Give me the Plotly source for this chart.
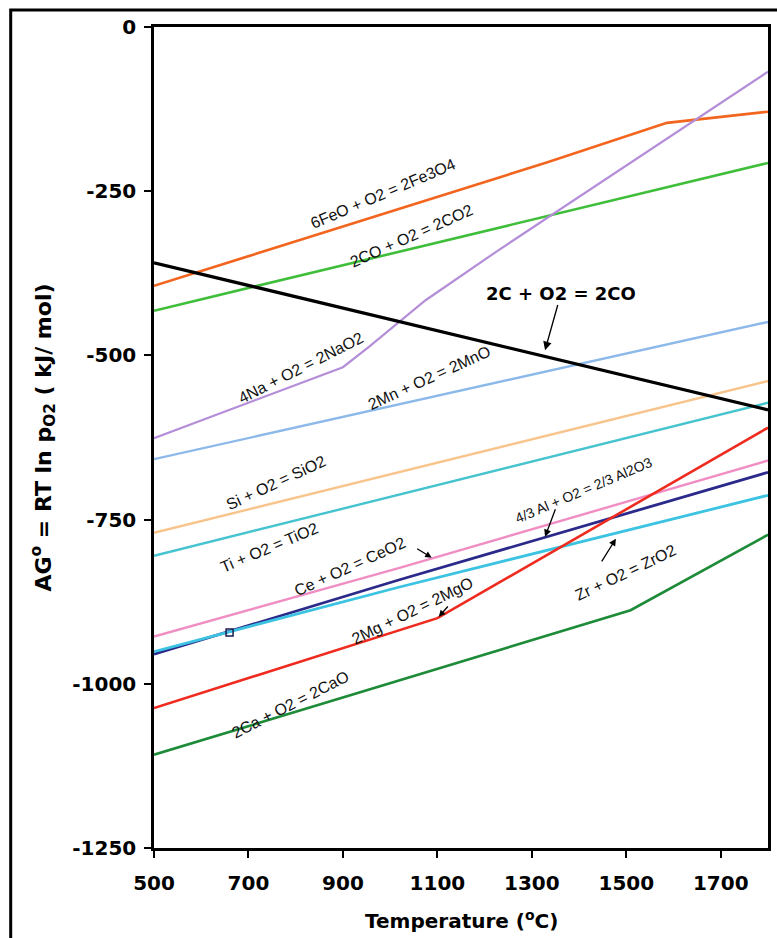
import plotly.graph_objects as go

# Ellingham-type data: standard free energy of oxide formation (kJ/mol O2) vs temperature (°C)
t_feo = [500, 1333, 1586, 1800]
g_feo = [-394, -206, -146, -129]

t_co2 = [500, 1800]
g_co2 = [-432, -207]

t_co = [500, 1800]
g_co = [-359, -583]

t_na = [500, 900, 955, 1018, 1075, 1229, 1800]
g_na = [-626, -518, -487, -449, -416, -340, -68]

t_mn = [500, 1800]
g_mn = [-658, -449]

t_si = [500, 1800]
g_si = [-770, -539]

t_ti = [500, 1800]
g_ti = [-805, -572]

t_ce = [500, 1018, 1800]
g_ce = [-928, -824, -660]

t_al = [500, 1018, 1800]
g_al = [-955, -842, -678]

t_zr = [500, 1018, 1800]
g_zr = [-951, -853, -713]

t_mg = [500, 1100, 1800]
g_mg = [-1037, -900, -610]

t_ca = [500, 1509, 1800]
g_ca = [-1108, -888, -773]

# marker on the Al2O3 line
t_mark = [660]
g_mark = [-922]

x_ticks = [500, 700, 900, 1100, 1300, 1500, 1700]
y_ticks = [0, -250, -500, -750, -1000, -1250]
y_tick_text = ["0", "-250", "-500", "-750", "-1000", "-1250"]

series = [
    (t_feo, g_feo, "#F2651F", 2.6),
    (t_co2, g_co2, "#3FBE3A", 2.6),
    (t_na, g_na, "#B48ED8", 2.2),
    (t_mn, g_mn, "#8CB9EA", 2.4),
    (t_si, g_si, "#F8C48C", 2.4),
    (t_ti, g_ti, "#45C3CF", 2.4),
    (t_ce, g_ce, "#F08DC2", 2.4),
    (t_al, g_al, "#2B2A8A", 2.8),
    (t_zr, g_zr, "#3CC3E2", 2.8),
    (t_mg, g_mg, "#EE2B1E", 2.6),
    (t_ca, g_ca, "#1E8B38", 2.6),
    (t_co, g_co, "#000000", 3.2),
]

fig = go.Figure()
for tx, gy, col, w in series:
    fig.add_trace(go.Scatter(x=tx, y=gy, mode="lines",
                             line=dict(color=col, width=w),
                             showlegend=False, hoverinfo="skip"))

fig.add_trace(go.Scatter(x=t_mark, y=g_mark, mode="markers",
                         marker=dict(symbol="square-open", size=7,
                                     color="#1a1a50", line=dict(width=1.5)),
                         showlegend=False, hoverinfo="skip"))

narrow = "Liberation Sans Narrow, Arial Narrow, Liberation Sans, Arial"

# reaction labels: (text, x, y, angle, size)
labels = [
    ("6FeO + O2 = 2Fe3O4", 985, -253, -23, 16),
    ("2CO + O2 = 2CO2", 1046, -317, -24, 16),
    ("4Na + O2 = 2NaO2", 812, -519, -27, 16),
    ("2Mn + O2 = 2MnO", 1084, -534, -24.5, 16),
    ("Si + O2 = SiO2", 759, -693, -25, 16),
    ("Ti + O2 = TiO2", 744, -792, -23, 16),
    ("Ce + O2 = CeO2", 915, -822, -24.5, 16),
    ("2Mg + O2 = 2MgO", 1048, -888, -26, 16),
    ("4/3 Al + O2 = 2/3 Al2O3", 1410, -705, -23, 14),
    ("Zr + O2 = ZrO2", 1499, -831, -25.5, 16),
    ("2Ca + O2 = 2CaO", 789, -1032, -27, 16),
]
for txt, lx, ly, ang, sz in labels:
    fig.add_annotation(x=lx, y=ly, xref="x", yref="y", text=txt,
                       textangle=ang, showarrow=False,
                       font=dict(family=narrow, size=sz, color="#111111"))

# carbon line label with its pointer
fig.add_annotation(x=1328, y=-492, ax=1362, ay=-405, xref="x", yref="y",
                   axref="x", ayref="y", text="2C + O2 = 2CO",
                   showarrow=True, arrowhead=2, arrowsize=1.3,
                   arrowwidth=1.3, arrowcolor="#000000", standoff=0,
                   font=dict(family="Verdana, DejaVu Sans", size=18,
                             color="#000000", weight="bold"))

# pointer arrows: (tail x, tail y, head x, head y, head size)
arrows = [
    (1054, -793, 1088, -808, 1.0),
    (1125, -880, 1103, -898, 1.0),
    (1351, -732, 1328, -776, 1.1),
    (1446, -816, 1478, -779, 1.1),
]
for ax0, ay0, hx, hy, hs in arrows:
    fig.add_annotation(x=hx, y=hy, ax=ax0, ay=ay0, xref="x", yref="y",
                       axref="x", ayref="y", text="", showarrow=True,
                       arrowhead=2, arrowsize=hs, arrowwidth=1.3,
                       arrowcolor="#000000")

# axis titles
fig.add_annotation(x=-0.18, y=0.5006, xref="paper", yref="paper",
                   xanchor="center", yanchor="middle",
                   text="AG<sup>o</sup> = RT ln p<sub>O2</sub> ( kJ/ mol)",
                   textangle=-90, showarrow=False,
                   font=dict(family="Verdana, DejaVu Sans", size=22,
                             color="#000000", weight="bold"))
fig.add_annotation(x=0.5, y=-0.0877, xref="paper", yref="paper",
                   xanchor="center", yanchor="middle",
                   text="Temperature (<sup>o</sup>C)", showarrow=False,
                   font=dict(family="Verdana, DejaVu Sans", size=20,
                             color="#000000", weight="bold"))

# outer frame
fig.add_shape(type="rect", xref="paper", yref="paper",
              x0=-0.2334, y0=-0.13, x1=1.03, y1=1.0207,
              line=dict(color="#000000", width=3))

tick_font = dict(family="Verdana, DejaVu Sans", size=20, color="#000000",
                 weight="bold")
fig.update_xaxes(range=[500, 1800], tickvals=x_ticks, ticks="outside",
                 ticklen=7, tickwidth=2, tickcolor="#000000",
                 showline=True, linecolor="#000000", linewidth=2.5,
                 mirror=True, showgrid=False, zeroline=False,
                 tickfont=tick_font, ticklabelstandoff=8)
fig.update_yaxes(range=[-1250, 0], tickvals=y_ticks, ticktext=y_tick_text,
                 ticks="outside", ticklen=7, tickwidth=2, tickcolor="#000000",
                 showline=True, linecolor="#000000", linewidth=2.5,
                 mirror=True, showgrid=False, zeroline=False,
                 tickfont=tick_font, ticklabelstandoff=4)

fig.update_layout(width=777, height=938, autosize=False,
                  margin=dict(l=154, r=6, t=27, b=90),
                  paper_bgcolor="#ffffff", plot_bgcolor="#ffffff")

fig.write_html("out.html")
